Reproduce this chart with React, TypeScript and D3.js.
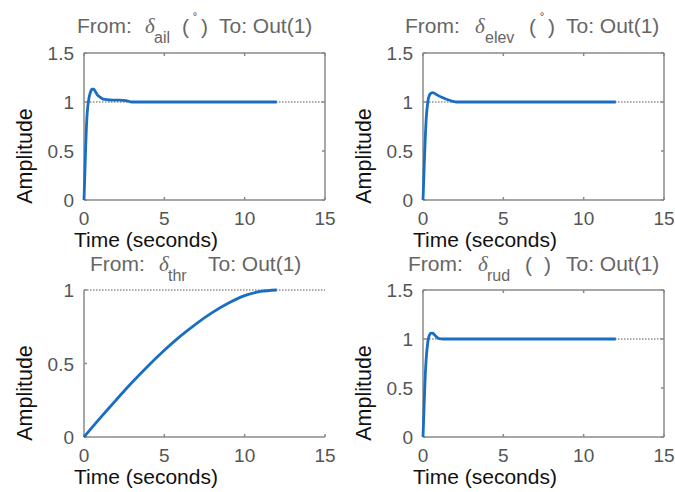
import React from 'react';
import * as d3 from 'd3';

// step response samples (time in seconds, amplitude)
const ailT = [0, 0.05, 0.1, 0.15, 0.2, 0.3, 0.4, 0.5, 0.6, 0.7, 0.8, 1.0, 1.2, 1.4, 1.8, 2.2, 2.6, 3.0, 12];
const ailY = [0, 0.25, 0.52, 0.74, 0.89, 1.03, 1.1, 1.13, 1.13, 1.11, 1.08, 1.05, 1.03, 1.025, 1.02, 1.02, 1.015, 1.0, 1.0];

const elevT = [0, 0.05, 0.1, 0.15, 0.2, 0.3, 0.4, 0.5, 0.6, 0.7, 0.9, 1.2, 1.5, 1.8, 2.1, 12];
const elevY = [0, 0.22, 0.46, 0.67, 0.83, 1.0, 1.07, 1.09, 1.095, 1.09, 1.07, 1.045, 1.025, 1.01, 1.0, 1.0];

const thrT = [0, 1, 2, 3, 4, 5, 6, 7, 8, 9, 10, 11, 12];
const thrY = [0, 0.128, 0.252, 0.372, 0.485, 0.59, 0.686, 0.772, 0.848, 0.912, 0.962, 0.99, 1.0];

const rudT = [0, 0.05, 0.1, 0.15, 0.2, 0.3, 0.4, 0.5, 0.6, 0.7, 0.85, 1.0, 1.25, 12];
const rudY = [0, 0.22, 0.46, 0.66, 0.8, 0.97, 1.04, 1.06, 1.06, 1.045, 1.02, 1.005, 1.0, 1.0];

const xTicks = [0, 5, 10, 15];
const yTicks15 = [0, 0.5, 1, 1.5];
const yTicks1 = [0, 0.5, 1];

const FONT = '"Liberation Sans", Arial, Helvetica, sans-serif';
const LINE = '#1a6ec2';
const AXIS = '#8a8a8a';

type PanelProps = {
  left: number;
  top: number;
  yMax: number;
  yTicks: number[];
  box: boolean;
  t: number[];
  y: number[];
  title: React.ReactNode;
};

const Panel = ({ left, top, yMax, yTicks, box, t, y, title }: PanelProps) => {
  const w = 241;
  const h = 147;
  const xScale = d3.scaleLinear().domain([0, 15]).range([left, left + w]);
  const yScale = d3.scaleLinear().domain([0, yMax]).range([top + h, top]);
  const pts = t.map((d, i) => [d, y[i]] as [number, number]);
  const line = d3.line<[number, number]>()
    .x(d => xScale(d[0]))
    .y(d => yScale(d[1]))
    .curve(d3.curveMonotoneX);
  const x0 = xScale(0);
  const x1 = xScale(15);
  const y0 = yScale(0);
  const y1 = yScale(yMax);

  return (
    <g>
      {title}
      {/* reference line at final value */}
      <line x1={x0} x2={x1} y1={yScale(1)} y2={yScale(1)} stroke="#555" strokeWidth={1} strokeDasharray="1.5,1.5" />
      {/* box / axes */}
      <line x1={x0} x2={x0} y1={y0} y2={y1} stroke={AXIS} strokeWidth={1.5} />
      <line x1={x0} x2={x1} y1={y0} y2={y0} stroke={AXIS} strokeWidth={1.5} />
      {box && (
        <>
          <line x1={x0} x2={x1} y1={y1} y2={y1} stroke={AXIS} strokeWidth={1.5} />
          <line x1={x1} x2={x1} y1={y0} y2={y1} stroke={AXIS} strokeWidth={1.5} />
        </>
      )}
      {xTicks.map(v => (
        <g key={'x' + v}>
          <line x1={xScale(v)} x2={xScale(v)} y1={y0} y2={y0 - 3} stroke={AXIS} strokeWidth={1.5} />
          {box && <line x1={xScale(v)} x2={xScale(v)} y1={y1} y2={y1 + 3} stroke={AXIS} strokeWidth={1.5} />}
          <text x={xScale(v)} y={y0 + 25} textAnchor="middle" fontSize={19} fill="#555" fontFamily={FONT}>{v}</text>
        </g>
      ))}
      {yTicks.map(v => (
        <g key={'y' + v}>
          <line x1={x0} x2={x0 + 3} y1={yScale(v)} y2={yScale(v)} stroke={AXIS} strokeWidth={1.5} />
          {box && <line x1={x1} x2={x1 - 3} y1={yScale(v)} y2={yScale(v)} stroke={AXIS} strokeWidth={1.5} />}
          <text x={x0 - 10} y={yScale(v) + 7} textAnchor="end" fontSize={19} fill="#555" fontFamily={FONT}>{v}</text>
        </g>
      ))}
      <path d={line(pts) || ''} fill="none" stroke={LINE} strokeWidth={2.8} />
      <text x={x0 - 10} y={y0 + 47} fontSize={21} fill="#111" fontFamily={FONT}>Time (seconds)</text>
      <text transform={`translate(${x0 - 52},${y0 - 44}) rotate(-90)`} textAnchor="middle" fontSize={21.5} fill="#111" fontFamily={FONT}>Amplitude</text>
    </g>
  );
};

type TitleProps = {
  from: number;
  delta: number;
  sub: string;
  subX: number;
  paren?: number;
  degree: boolean;
  to: number;
  base: number;
};

const Title = ({ from, delta, sub, subX, paren, degree, to, base }: TitleProps) => (
  <g fill="#666" fontFamily={FONT}>
    <text x={from} y={base} fontSize={21}>From:</text>
    <text x={delta} y={base} fontSize={21} fontStyle="italic" fontFamily='"Liberation Serif", "DejaVu Serif", serif'>δ</text>
    <text x={subX} y={base + 10} fontSize={16}>{sub}</text>
    {paren !== undefined && (
      <>
        <text x={paren} y={base + 1} fontSize={21}>(</text>
        {degree && <text x={paren + 11} y={base - 9} fontSize={14}>˚</text>}
        <text x={paren + 19} y={base + 1} fontSize={21}>)</text>
      </>
    )}
    <text x={to} y={base} fontSize={21}>To: Out(1)</text>
  </g>
);

export default function App() {
  return (
    <svg width={675} height={492} style={{ position: 'absolute', left: 0, top: 0, background: '#fff' }}>
      <Panel left={84} top={53} yMax={1.5} yTicks={yTicks15} box={true} t={ailT} y={ailY}
        title={<Title from={77} delta={145} sub="ail" subX={154} paren={182} degree={true} to={219} base={33} />} />
      <Panel left={423} top={53} yMax={1.5} yTicks={yTicks15} box={true} t={elevT} y={elevY}
        title={<Title from={405} delta={475} sub="elev" subX={485} paren={529} degree={true} to={566} base={33} />} />
      <Panel left={84} top={290} yMax={1} yTicks={yTicks1} box={false} t={thrT} y={thrY}
        title={<Title from={90} delta={159} sub="thr" subX={168} degree={false} to={208} base={271} />} />
      <Panel left={423} top={290} yMax={1.5} yTicks={yTicks15} box={true} t={rudT} y={rudY}
        title={<Title from={408} delta={478} sub="rud" subX={487} paren={525} degree={false} to={566} base={271} />} />
    </svg>
  );
}
